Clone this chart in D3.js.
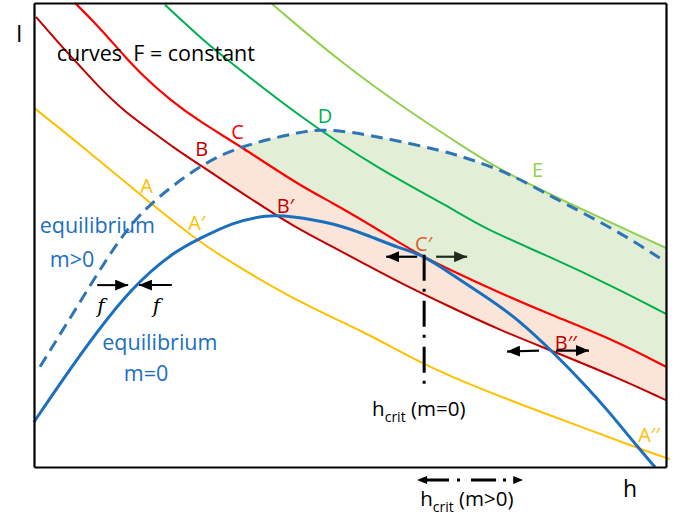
<!DOCTYPE html>
<html>
<head>
<meta charset="utf-8">
<script src="https://cdn.jsdelivr.net/npm/d3@7"></script>
<style>
body{margin:0;background:#fff;}
svg text{font-family:"Open Sans","Noto Sans",sans-serif;}
</style>
</head>
<body>
<div id="chart"></div>
<script>
// curves F = constant as [h, I] on a 0..100 scale
const curveA = [[0,77.4],[7.75,69.0],[18.35,56.9],[25.79,48.9],[30.54,44.6],[42.09,35.3],[52.69,28.9],[61.08,22.4],[71.04,16.6],[78.96,12.5],[95.9,3.9],[100.6,1.7]];
const curveB = [[0.32,97.0],[4.59,90.3],[7.28,86.4],[9.97,82.3],[14.08,76.9],[17.88,73.1],[22.63,68.3],[26.27,65.1],[31.49,60.3],[37.82,54.7],[42.09,51.1],[47.31,47.4],[52.69,43.5],[57.91,39.7],[65.82,34.5],[73.73,29.5],[81.65,25.2],[92.09,19.4],[100,14.4]];
const curveC = [[6.49,100],[9.97,95.3],[14.4,88.4],[17.25,84.3],[21.52,79.1],[26.27,74.4],[32.59,69.2],[42.09,60.6],[47.31,56.9],[52.69,52.6],[57.91,48.3],[61.08,45.7],[65.82,42.5],[73.73,37.5],[81.65,32.9],[92.09,27.2],[100,21.6]];
const curveD = [[20.73,99.6],[26.74,92.0],[31.01,87.3],[42.09,75.4],[54.75,64.0],[65.82,56.0],[71.04,51.5],[81.65,45.3],[92.09,38.6],[100,33.0]];
const curveE = [[37.66,99.8],[48.42,87.3],[59.02,76.9],[69.46,67.7],[73.73,64.0],[86.87,55.4],[100,47.2]];
// equilibrium curves
const equilM0 = [[0,9.7],[7.75,25.2],[15.66,39.2],[22.63,46.8],[25.79,48.9],[31.49,52.8],[36.87,54.3],[40.51,54.1],[47.31,52.6],[52.69,50.0],[57.91,47.1],[61.08,46.0],[65.82,41.8],[71.04,37.1],[76.27,32.3],[83.23,23.3],[86.87,18.1],[90.51,12.7],[95.89,3.7],[98.26,0]];
const equilM1 = [[0.95,21.6],[6.49,33.8],[13.61,49.6],[18.35,56.9],[26.27,65.1],[32.59,69.2],[42.09,72.2],[45.25,72.8],[50.47,72.2],[56.8,70.5],[64.24,68.3],[69.46,66.2],[75.79,62.9],[81.65,58.4],[92.09,51.1],[99.05,45.0]];

const pointLabels = [
  {t:"A", h:16.8, i:59.1, c:"#FFC000"},
  {t:"A\u2032", h:24.4, i:51.1, c:"#FFC000"},
  {t:"B", h:25.5, i:67.0, c:"#C00000"},
  {t:"C", h:31.2, i:70.7, c:"#FF0000"},
  {t:"D", h:44.9, i:74.1, c:"#00B050"},
  {t:"B\u2032", h:38.4, i:54.7, c:"#C00000"},
  {t:"E", h:78.8, i:62.5, c:"#92D050"},
  {t:"C\u2032", h:60.3, i:46.6, c:"#E2592B"},
  {t:"B\u2032\u2032", h:82.4, i:25.2, c:"#C00000"},
  {t:"A\u2032\u2032", h:95.6, i:5.4, c:"#FFC000"}
];
const blueLabels = [
  {t:"equilibrium", h:0.9, i:50.4},
  {t:"m>0", h:2.5, i:43.1},
  {t:"equilibrium", h:10.8, i:25.2},
  {t:"m=0", h:14.2, i:18.5}
];

const width = 683, height = 517;
const x = d3.scaleLinear().domain([0,100]).range([34,666]);
const y = d3.scaleLinear().domain([0,100]).range([467,3]);

const svg = d3.select("#chart").append("svg")
    .attr("width", width)
    .attr("height", height);

const defs = svg.append("defs");
function marker(id, w, h, color){
  defs.append("marker")
      .attr("id", id)
      .attr("markerUnits","userSpaceOnUse")
      .attr("viewBox","0 0 "+w+" "+h)
      .attr("markerWidth", w).attr("markerHeight", h)
      .attr("refX", w).attr("refY", h/2)
      .attr("orient","auto-start-reverse")
    .append("path")
      .attr("d","M0,0L"+w+","+(h/2)+"L0,"+h+"Z")
      .attr("fill", color);
}
marker("head", 13, 11, "#000");
marker("headDark", 13, 11, "#1F2D1F");
marker("headSmall", 10, 8, "#000");

const fillG = svg.append("g");
const lineG = svg.append("g");
const annoG = svg.append("g");

const line = d3.line()
    .x(d => x(d[0]))
    .y(d => y(d[1]))
    .curve(d3.curveBasis);

function drawCurve(data, color, w, dash){
  const p = lineG.append("path")
      .attr("d", line(data))
      .attr("fill","none")
      .attr("stroke", color)
      .attr("stroke-width", w);
  if (dash) p.attr("stroke-dasharray", dash);
  return sampler(p.node());
}

// turn a drawn path into a y-at-x lookup
function sampler(node){
  const len = node.getTotalLength();
  const pts = [];
  for (let s = 0; s <= len; s += 0.5){
    const p = node.getPointAtLength(s);
    pts.push([p.x, p.y]);
  }
  return function(px){
    if (px <= pts[0][0]) return pts[0][1];
    for (let k = 1; k < pts.length; k++){
      if (pts[k][0] >= px){
        const a = pts[k-1], b = pts[k];
        const t = (px - a[0]) / ((b[0] - a[0]) || 1);
        return a[1] + t * (b[1] - a[1]);
      }
    }
    return pts[pts.length-1][1];
  };
}

function crossing(f, g, x0, x1){
  let prev = f(x0) - g(x0);
  for (let px = x0 + 0.5; px <= x1; px += 0.5){
    const d = f(px) - g(px);
    if (prev * d <= 0) return px;
    prev = d;
  }
  return x1;
}
// closest approach of two curves (they only touch)
function touching(f, g, x0, x1){
  let bx = x0, best = 1e9;
  for (let px = x0; px <= x1; px += 0.5){
    const d = Math.abs(f(px) - g(px));
    if (d < best){ best = d; bx = px; }
  }
  return bx;
}

const fA = drawCurve(curveA, "#FFC000", 2);
const fB = drawCurve(curveB, "#C00000", 2);
const fC = drawCurve(curveC, "#FF0000", 2.2);
const fD = drawCurve(curveD, "#00B050", 2);
const fE = drawCurve(curveE, "#92D050", 2);
const fM1 = drawCurve(equilM1, "#2E75B6", 3, "12,7");
const fM0 = drawCurve(equilM0, "#1A6FBF", 3);

// shaded regions
const xEnd = x(100);
const xB = crossing(fM1, fB, x(10), x(40));
const xC = crossing(fM1, fC, x(10), x(45));
const xT = touching(fM1, fE, x(70), x(90));

let upper = [], lower = [];
for (let px = xB; px <= xEnd; px += 1){
  upper.push([px, px < xC ? fM1(px) : fC(px)]);
  lower.push([px, fB(px)]);
}
upper.push([xEnd, fC(xEnd)]); lower.push([xEnd, fB(xEnd)]);
fillG.append("path")
    .attr("d", d3.line()(upper.concat(lower.reverse())) + "Z")
    .attr("fill", "#FBE4D8");

upper = []; lower = [];
for (let px = xC; px <= xEnd; px += 1){
  upper.push([px, px < xT ? fM1(px) : fE(px)]);
  lower.push([px, fC(px)]);
}
upper.push([xEnd, fE(xEnd)]); lower.push([xEnd, fC(xEnd)]);
fillG.append("path")
    .attr("d", d3.line()(upper.concat(lower.reverse())) + "Z")
    .attr("fill", "#E2EED6");

// frame
svg.append("g").attr("transform","translate(0,"+y(0)+")")
    .call(d3.axisBottom(x).tickValues([]).tickSizeOuter(0));
svg.append("g").attr("transform","translate("+x(0)+",0)")
    .call(d3.axisLeft(y).tickValues([]).tickSizeOuter(0));
svg.append("g").attr("transform","translate(0,"+y(100)+")")
    .call(d3.axisTop(x).tickValues([]).tickSizeOuter(0));
svg.append("g").attr("transform","translate("+x(100)+",0)")
    .call(d3.axisRight(y).tickValues([]).tickSizeOuter(0));
svg.selectAll(".domain").attr("stroke","#000").attr("stroke-width",2.2);

// labels
annoG.selectAll(".pl").data(pointLabels).enter().append("text")
    .attr("class","pl")
    .attr("x", d => x(d.h)).attr("y", d => y(d.i))
    .attr("fill", d => d.c)
    .attr("font-size", 20)
    .text(d => d.t);
annoG.selectAll(".bl").data(blueLabels).enter().append("text")
    .attr("class","bl")
    .attr("x", d => x(d.h)).attr("y", d => y(d.i))
    .attr("fill", "#1A6FBF")
    .attr("font-size", 21.5)
    .text(d => d.t);

annoG.append("text").attr("x", x(3.6)).attr("y", y(87.5))
    .attr("font-size", 21.5).style("white-space","pre")
    .text("curves  F = constant");
annoG.append("text").attr("x", x(0) - 18).attr("y", y(100) + 39)
    .attr("font-size", 23).text("I");
annoG.append("text").attr("x", x(100) - 43).attr("y", y(0) + 30)
    .attr("font-size", 23).text("h");

function arrow(x1, y1, x2, y2, m, color, w){
  return annoG.append("line")
      .attr("x1", x1).attr("y1", y1).attr("x2", x2).attr("y2", y2)
      .attr("stroke", color).attr("stroke-width", w)
      .attr("marker-end","url(#"+m+")");
}

// f arrows
const fy = y(39.2);
arrow(x(10.0), fy, x(14.9), fy, "head", "#000", 2);
arrow(x(21.8), fy, x(16.6), fy, "head", "#000", 2);
[10.0, 18.8].forEach(h => {
  annoG.append("text").attr("x", x(h)).attr("y", y(33.2))
      .attr("font-size", 20).attr("font-style","italic")
      .style("font-family","'DejaVu Serif','Liberation Serif',serif")
      .text("f");
});

// C' and B'' arrows
const xCp = touching(fM0, fC, x(52), x(68));
const yCp = fC(xCp);
arrow(xCp - 7, yCp, xCp - 38, yCp, "head", "#000", 2.2);
arrow(xCp + 12, yCp, xCp + 43, yCp, "headDark", "#1F2D1F", 2.2);
const xBpp = crossing(fM0, fB, x(75), x(95));
const yBpp = fB(xBpp);
arrow(xBpp - 12, yBpp, xBpp - 44, yBpp + 1, "head", "#000", 2.2);
arrow(xBpp + 5, yBpp, xBpp + 38, yBpp, "head", "#000", 2.2);

// h_crit (m=0) marker line
annoG.append("line")
    .attr("x1", xCp).attr("x2", xCp)
    .attr("y1", yCp - 2).attr("y2", y(17.7))
    .attr("stroke","#000").attr("stroke-width",3)
    .attr("stroke-dasharray","26,8,3,9");

// h_crit (m>0) double arrow
annoG.append("line")
    .attr("x1", x(60.6)).attr("x2", x(77.4))
    .attr("y1", y(-2.8)).attr("y2", y(-2.8))
    .attr("stroke","#000").attr("stroke-width",3)
    .attr("stroke-dasharray","0,10,22,8,3,11,25,7,3,40")
    .attr("marker-start","url(#headSmall)")
    .attr("marker-end","url(#headSmall)");

function hcrit(h, i, rest){
  const t = annoG.append("text").attr("x", x(h)).attr("y", y(i)).attr("font-size", 20.5);
  t.append("tspan").text("h");
  t.append("tspan").attr("font-size", 14).attr("dy", 6).text("crit");
  t.append("tspan").attr("dy", -6).style("white-space","pre").text(" " + rest);
}
hcrit(53.5, 11.0, "(m=0)");
hcrit(61.1, -8.4, "(m>0)");
</script>
</body>
</html>
